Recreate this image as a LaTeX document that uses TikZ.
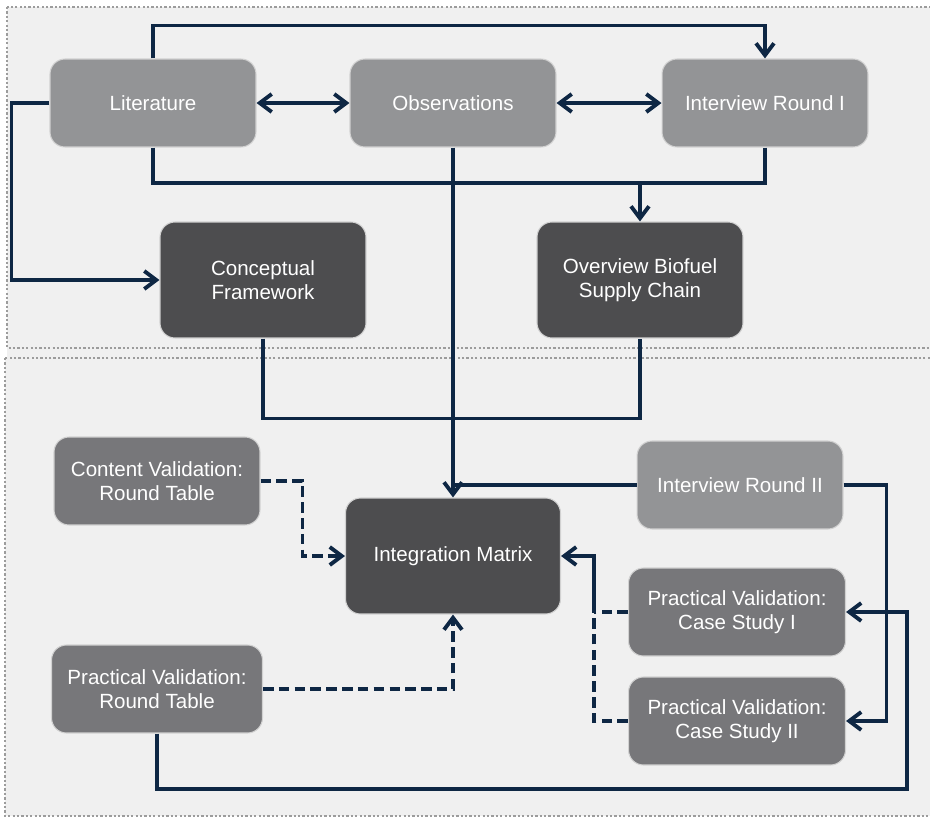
\documentclass[tikz,border=0pt]{standalone}
\usepackage{fontspec}
\setmainfont{Liberation Sans}
\usetikzlibrary{arrows.meta}

\definecolor{navy}{HTML}{0E2744}
\definecolor{boxlight}{HTML}{939496}
\definecolor{boxmid}{HTML}{77777A}
\definecolor{boxdark}{HTML}{4D4D4F}
\definecolor{panel}{HTML}{F0F0F0}
\definecolor{rim}{HTML}{9C9C9C}

\begin{document}
\begin{tikzpicture}[x=0.02cm,y=-0.02cm,>={Straight Barb[length=2.4mm,width=3.6mm]}]
        \tikzstyle{box}=[rounded corners=0.3cm, text=white, align=center, draw=white!82!black, line width=0.6pt,
                font=\fontsize{11.7}{13.4}\selectfont]
        \tikzstyle{light}=[box, fill=boxlight, minimum width=4.12cm, minimum height=1.76cm]
        \tikzstyle{mid}=[box, fill=boxmid, minimum width=4.12cm, minimum height=1.76cm]
        \tikzstyle{dark}=[box, fill=boxdark, minimum width=4.12cm, minimum height=2.32cm]
        \tikzstyle{plain}=[navy, line width=2.2pt]
        \tikzstyle{dline}=[plain, dash pattern=on 6pt off 3pt]
        \tikzstyle{zone}=[fill=panel, draw=rim, line width=1.6pt, dash pattern=on 1.3pt off 1.2pt]

        \useasboundingbox (0,0) rectangle (930,818);
        \fill[panel] (7,348) rectangle (940,358);
        \draw[zone] (7,7) rectangle (945,348);
        \draw[zone] (5,358) rectangle (945,816);

        \node[light] (lit) at (153,103) {Literature};
        \node[light] (obs) at (453,103) {Observations};
        \node[light] (ir1) at (765,103) {Interview Round I};
        \node[dark]  (cf)  at (263,280) {Conceptual\\Framework};
        \node[dark]  (ov)  at (640,280) {Overview Biofuel\\Supply Chain};
        \node[mid]   (cv)  at (157,481) {Content Validation:\\Round Table};
        \node[dark, minimum width=4.3cm] (im) at (453,556) {Integration Matrix};
        \node[light] (ir2) at (740,485) {Interview Round II};
        \node[mid, minimum width=4.34cm] (cs1) at (737,612) {Practical Validation:\\Case Study I};
        \node[mid, minimum width=4.34cm] (cs2) at (737,721) {Practical Validation:\\Case Study II};
        \node[mid, minimum width=4.22cm] (prt) at (157,689) {Practical Validation:\\Round Table};

        \coordinate (j1) at (640,183);
        \coordinate (rb) at (907,789);
        \coordinate (vj) at (594,612);

        \draw[plain,->] (lit.north) -- ++(0,-33) -| (ir1.north);
        \draw[plain,<->] (lit) -- (obs);
        \draw[plain,<->] (obs) -- (ir1);
        \draw[plain,->] (lit.west) -- ++(-38,0) |- (cf.west);
        \draw[plain] (lit.south) |- (j1);
        \draw[plain] (ir1.south) |- (j1);
        \draw[plain,->] (j1) -- (ov.north);
        \draw[plain,->] (obs.south) -- (im.north);
        \draw[plain] (cf.south) -- ++(0,80) -| (ov.south);
        \draw[plain] (ir2.west) -- (ir2.west -| im.north);
        \draw[plain,->] (ir2.east) -- ++(43,0) |- (cs2.east);
        \draw[plain,->] (prt.south) |- (rb) |- (cs1.east);

        \draw[dline,->] (cv.east) -- ++(42,0) |- (im.west);
        \draw[dline,->] (prt.east) -| (im.south);
        \draw[dline] (cs1.west) -- (vj);
        \draw[dline] (cs2.west) -| (vj);
        \draw[plain,->] (vj) |- (im.east);
\end{tikzpicture}
\end{document}
